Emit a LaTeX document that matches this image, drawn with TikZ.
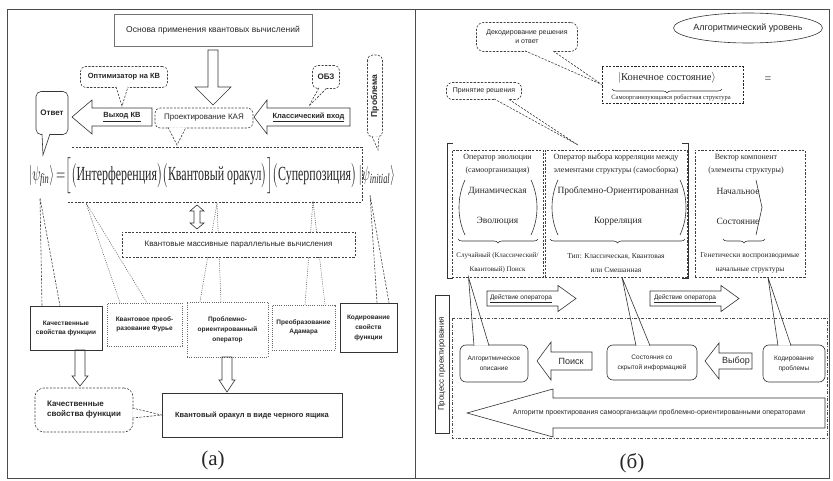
\documentclass[tikz,border=0pt]{standalone}
\usepackage{amsmath}
\usepackage{graphicx}
\usepackage{fontspec}
\setmainfont{Liberation Serif}
\setsansfont{Liberation Sans}
\usetikzlibrary{calc,shapes.geometric,decorations.pathreplacing,backgrounds}
\newcommand{\fsz}[2]{\fontsize{#1}{#2}\selectfont}
% horizontal hollow arrow: tipx, cy, headx, endx, bodyhalf, headhalf
\newcommand{\hollowH}[6]{\draw[hol] (#1,#2) -- (#3,{#2-#6}) -- (#3,{#2-#5}) -- (#4,{#2-#5}) -- (#4,{#2+#5}) -- (#3,{#2+#5}) -- (#3,{#2+#6}) -- cycle;}
% vertical hollow arrow: tipy, cx, heady, endy, bodyhalf, headhalf
\newcommand{\hollowV}[6]{\draw[hol] (#2,#1) -- ({#2-#6},#3) -- ({#2-#5},#3) -- ({#2-#5},#4) -- ({#2+#5},#4) -- ({#2+#5},#3) -- ({#2+#6},#3) -- cycle;}
% callout tail: style, base A, tip, base B
\newcommand{\ctail}[4]{\fill[white] #2 -- #3 -- #4 -- cycle; \draw[#1] #2 -- #3 -- #4;}
\begin{document}
\begin{tikzpicture}[x=1pt,y=-1pt,
  every node/.style={text=black!85, inner sep=1pt},
  sol/.style={draw=black!80, line width=0.6pt},
  dsh/.style={draw=black!75, line width=0.6pt, dash pattern=on 2.2pt off 1.4pt},
  dot/.style={draw=black!60, line width=0.6pt, dash pattern=on 1pt off 1.2pt},
  dashdot/.style={draw=black!70, line width=0.6pt, dash pattern=on 3pt off 1.5pt on 1pt off 1.5pt},
  hol/.style={draw=black!80, line width=0.6pt, line join=miter},
  brc/.style={draw=black!80, line width=0.6pt, decorate, decoration={brace, mirror, amplitude=4pt}}]
\useasboundingbox (0,0) rectangle (833,481);
% frame
\draw[draw=black!70, line width=0.6pt] (7,9) rectangle (829,478);
\draw[draw=black!70, line width=0.6pt] (415,9) -- (415,478);

% ================= panel (a) =================
\node[sol, draw=black!55, minimum width=198pt, minimum height=32pt, font=\sffamily\fsz{8.5}{10}] (osn) at (213,30) {Основа применения квантовых вычислений};
\hollowV{105}{213}{87}{50}{5}{18}

\node[dsh, rounded corners=5pt, minimum width=87pt, minimum height=21pt, font=\sffamily\bfseries\fsz{7.5}{9}] (opt) at (124,77) {Оптимизатор на КВ};
\coordinate (optT) at (122,106);
\ctail{dsh}{($(opt.south)+(-8,-1)$)}{(optT)}{($(opt.south)+(4,-1)$)}

\node[dsh, rounded corners=5pt, minimum width=27pt, minimum height=23pt, font=\sffamily\bfseries\fsz{8}{9}] (obz) at (326,77) {ОБЗ};
\coordinate (obzT) at (309,106);
\ctail{dsh}{($(obz.south)+(-7,-1)$)}{(obzT)}{($(obz.south)+(1,-1)$)}

\node[dsh, rounded corners=5pt, rotate=90, minimum width=82pt, minimum height=15pt, font=\sffamily\bfseries\fsz{8.5}{9}] (prob) at (375,96) {Проблема};
\coordinate (probT) at (378,150);
\ctail{dsh}{($(prob.west)+(-3,-1)$)}{(probT)}{($(prob.west)+(4,-1)$)}

\node[sol, rounded corners=5pt, minimum width=32pt, minimum height=43pt, font=\sffamily\bfseries\fsz{8}{9}] (ans) at (52,113) {Ответ};
\coordinate (ansT) at (43,155);
\ctail{sol}{($(ans.south)+(-10,-1)$)}{(ansT)}{($(ans.south)+(-2,-1)$)}

\hollowH{72}{117}{92}{152}{9}{17}
\node[font=\sffamily\bfseries\fsz{7.5}{9}] (vyh) at (122,117) {\underline{Выход КВ}};

\node[dsh, rounded corners=5pt, minimum width=98pt, minimum height=20pt, font=\sffamily\fsz{8}{9}] (kaya) at (204,118) {Проектирование КАЯ};
\coordinate (kayaT) at (177,145);
\ctail{dsh}{($(kaya.south)+(-36,-1)$)}{(kayaT)}{($(kaya.south)+(-18,-1)$)}

\hollowH{254}{117}{267}{350}{9}{17}
\node[font=\sffamily\bfseries\fsz{7.5}{9}] (klv) at (308.5,117) {\underline{Классический вход}};

% formula
\draw[dsh] (72,147) -- (362,147) -- (362,202) -- (67,202);
\node (form) at (212,176) {\resizebox*{366pt}{36pt}{$\left|\psi_{\mathit{fin}}\right\rangle{=}\Bigl[\bigl(\text{Интерференция}\bigr)\bigl(\text{Квантовый оракул}\bigr)\Bigr]\bigl(\text{Суперпозиция}\bigr)\left|\psi_{\mathit{initial}}\right\rangle$}};

% double arrow
\draw[hol] (197,205) -- (204,211) -- (200,211) -- (200,223) -- (204,223) -- (197,229) -- (190,223) -- (194,223) -- (194,211) -- (190,211) -- cycle;

% bottom boxes
\node[sol, minimum width=72pt, minimum height=44pt, align=center, font=\sffamily\bfseries\fsz{6.5}{9}] (b1) at (66,328) {Качественные\\свойства функции};
\node[dot, minimum width=75pt, minimum height=43pt, align=center, font=\sffamily\bfseries\fsz{6.5}{9}] (b2) at (144.5,324.5) {Квантовое преоб-\\разование Фурье};
\node[dot, minimum width=81pt, minimum height=55pt, align=center, font=\sffamily\bfseries\fsz{6.5}{10}] (b3) at (227.5,329.5) {Проблемно-\\ориентированный\\оператор};
\node[dot, minimum width=63pt, minimum height=45pt, align=center, font=\sffamily\bfseries\fsz{6.5}{9}] (b4) at (303.5,327.5) {Преобразование\\Адамара};
\node[sol, minimum width=57pt, minimum height=49pt, align=center, font=\sffamily\bfseries\fsz{6.5}{10}] (b5) at (368.5,327.5) {Кодирование\\свойств\\функции};
\coordinate (b1T) at (40,198);
\coordinate (b2T) at (86,203);
\coordinate (b3T) at (217,203);
\coordinate (b4T) at (313,201);
\coordinate (b5T) at (370,195);
\begin{pgfonlayer}{background}
\draw[dsh] ($(b1.north)+(-24,0)$) -- (b1T) -- ($(b1.north)+(-6,0)$);
\draw[dot] ($(b2.north)+(-24.5,0)$) -- (b2T) -- ($(b2.north)+(2.5,0)$);
\draw[dot] ($(b3.north)+(-27.5,0)$) -- (b3T) -- ($(b3.north)+(-6.5,0)$);
\draw[dot] ($(b4.north)+(1.5,0)$) -- (b4T) -- ($(b4.north)+(21.5,0)$);
\draw[dsh] ($(b5.north)+(8.5,0)$) -- (b5T) -- ($(b5.north)+(20.5,0)$);
\end{pgfonlayer}
\node[dsh, fill=white, minimum width=233pt, minimum height=25pt, font=\sffamily\fsz{8}{9}] (kmpv) at (238.5,244.5) {Квантовые массивные параллельные вычисления};

\hollowV{386}{80}{376}{350}{5}{8}
\hollowV{392}{227}{380}{357}{5}{8}

\node[sol, minimum width=180pt, minimum height=44pt, font=\sffamily\bfseries\fsz{7.5}{9}] (ora) at (252,415) {Квантовый оракул в виде черного ящика};
\node[dsh, rounded corners=9pt, minimum width=98pt, minimum height=44pt, align=left, font=\sffamily\bfseries\fsz{8}{10}] (kach) at (84,410) {Качественные\\свойства функции};
\ctail{dsh}{($(kach.east)+(-1,-2)$)}{(ora.west)}{($(kach.east)+(-1,8)$)}

\node[font=\fsz{21}{24}] (capa) at (213,460) {(а)};

% ================= panel (b) =================
\node[font=\sffamily\fsz{9}{10}] (alg) at (748,28) {Алгоритмический уровень};
\draw[sol] (alg.center) ellipse [x radius=74.5pt, y radius=15pt];

\node[dsh, draw=black!85, minimum width=141pt, minimum height=37pt] (fin) at (672.5,84.5) {};
\node[font=\fsz{10.5}{12}] (kon) at (667,78) {$\left|\text{Конечное состояние}\right\rangle$};
\draw[brc] (612,89) -- (722,89);
\node[font=\fsz{6.5}{7}] (sam) at (671,98) {Самоорганизующаяся робастная структура};
\node[font=\fsz{12}{14}] (eq) at (768,80) {=};

\node[dsh, rounded corners=7pt, minimum width=101pt, minimum height=29pt, align=center, font=\sffamily\fsz{7}{9}] (dec) at (527,37) {Декодирование решения\\и ответ};
\ctail{dsh}{($(dec.south)+(-2,-1)$)}{(fin.west)}{($(dec.south)+(26,-1)$)}

\node[dsh, rounded corners=6pt, minimum width=75pt, minimum height=17pt, font=\sffamily\fsz{7}{8}] (prin) at (484,91) {Принятие решения};
\coordinate (prinT) at (578,145);
\ctail{dsh}{($(prin.south)+(10,-1)$)}{(prinT)}{($(prin.south)+(24,-1)$)}

% brackets
\draw[sol, line width=0.8pt] (453,143) -- (447,143) -- (447,278) -- (453,278);
\draw[sol, line width=0.8pt] (682,143) -- (688,143) -- (688,278) -- (682,278);

% operator boxes
\node[dsh, minimum width=91pt, minimum height=127pt] (bA) at (497.5,213.5) {};
\node[dsh, minimum width=142pt, minimum height=127pt] (bB) at (616,213.5) {};
\node[dsh, minimum width=110pt, minimum height=127pt] (bC) at (750,213.5) {};

\node[align=center, font=\fsz{8}{13}] (hA) at (497.5,164) {Оператор эволюции\\(самоорганизация)};
\node[align=center, font=\fsz{8}{13}] (hB) at (616,164) {Оператор выбора корреляции между\\элементами структуры (самосборка)};
\node[align=center, font=\fsz{8}{13}] (hC) at (746,164) {Вектор компонент\\(элементы структуры)};

\node[align=center, font=\fsz{9.5}{30}] (mA) at (497.5,206) {Динамическая\\Эволюция};
\node[align=center, font=\fsz{9.5}{30}] (mB) at (618,206) {Проблемно-Ориентированная\\Корреляция};
\node[align=center, font=\fsz{9.5}{30}] (mC) at (738,206) {Начальное\\Состояние};

\draw[sol] (465,180) .. controls (457,197) and (457,218) .. (465,235);
\draw[sol] (531,180) .. controls (539,197) and (539,218) .. (531,235);
\draw[sol] (558,180) .. controls (550,197) and (550,218) .. (558,235);
\draw[sol] (680,180) .. controls (688,197) and (688,218) .. (680,235);
\draw[sol] (756,180) -- (762,207.5) -- (756,235);

\draw[brc] (458,239) -- (538,239);
\draw[brc] (550,239) -- (685,239);
\draw[brc] (723,239) -- (765,239);

\node[align=center, font=\fsz{7}{14}] (tA) at (497.5,263) {Случайный (Классический/\\Квантовый) Поиск};
\node[align=center, font=\fsz{7.5}{14}] (tB) at (616,263) {Тип: Классическая, Квантовая\\или Смешанная};
\node[align=center, font=\fsz{7.5}{14}] (tC) at (750,263) {Генетически воспроизводимые\\начальные структуры};

% action arrows
\hollowH{576}{298.5}{558}{487}{7.5}{13}
\node[font=\sffamily\fsz{6.5}{8}] (d1) at (521,298.5) {\underline{Действие оператора}};
\hollowH{739}{298.5}{721}{650}{7.5}{13}
\node[font=\sffamily\fsz{6.5}{8}] (d2) at (685,298.5) {\underline{Действие оператора}};

% design process
\node[sol, rotate=90, minimum width=138pt, minimum height=14pt, font=\sffamily\fsz{8}{9}] (proc) at (442,364) {Процесс проектирования};

\node[sol, rounded corners=6pt, minimum width=68pt, minimum height=37pt, align=center, font=\sffamily\fsz{6.5}{10}] (algd) at (494,363.5) {Алгоритмическое\\описание};
\ctail{sol}{($(algd.north)+(-20,1)$)}{($(bA.south)+(-29,0)$)}{($(algd.north)+(-5,1)$)}

\hollowH{537}{361}{551}{592}{9}{19}
\node[font=\sffamily\fsz{9}{10}] (poisk) at (571,361) {Поиск};

\node[sol, rounded corners=6pt, minimum width=90pt, minimum height=35pt, align=center, font=\sffamily\fsz{6.5}{10}] (sost) at (652,362.5) {Состояния со\\скрытой информацией};
\ctail{sol}{($(sost.north)+(-16,1)$)}{($(bB.south)+(6,0)$)}{($(sost.north)+(-2,1)$)}

\hollowH{705}{361}{719}{752}{8}{18}
\node[font=\sffamily\fsz{9}{10}] (vybor) at (736,361) {Выбор};

\node[sol, rounded corners=6pt, minimum width=62pt, minimum height=37pt, align=center, font=\sffamily\fsz{6.5}{10}] (kodp) at (794,363.5) {Кодирование\\проблемы};
\ctail{sol}{($(kodp.north)+(-16,1)$)}{($(bC.south)+(18,0)$)}{($(kodp.north)+(-3,1)$)}

\hollowH{467}{413}{553}{825}{15}{24}
\node[font=\sffamily\fsz{7}{8}] (algp) at (659,413) {Алгоритм проектирования самоорганизации проблемно-ориентированными операторами};

\draw[dashdot] (452,318) rectangle (827,438);

\node[font=\fsz{21}{24}] (capb) at (632,463) {(б)};
\end{tikzpicture}
\end{document}
